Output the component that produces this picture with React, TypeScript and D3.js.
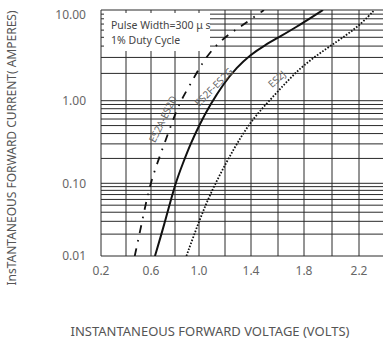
import * as d3 from 'd3';

// forward voltage (V) vs instantaneous forward current (A)
const es2aV = [0.47, 0.536, 0.592, 0.692, 0.783, 0.842, 0.925, 1.023, 1.123, 1.231, 1.315, 1.392, 1.496];
const es2aI = [0.01, 0.034, 0.1, 0.253, 0.583, 0.97, 1.49, 2.6, 4.01, 5.44, 6.5, 7.76, 10];

const es2fV = [0.633, 0.708, 0.8, 0.867, 0.925, 1.008, 1.085, 1.187, 1.29, 1.392, 1.504, 1.615, 1.744, 1.843, 1.936];
const es2fI = [0.01, 0.026, 0.098, 0.176, 0.291, 0.53, 0.887, 1.53, 2.32, 3.19, 4.11, 5.08, 6.54, 8.1, 10];

const es2jV = [0.895, 1.008, 1.1, 1.213, 1.315, 1.417, 1.541, 1.667, 1.795, 1.962, 2.109, 2.22, 2.315];
const es2jI = [0.01, 0.033, 0.081, 0.183, 0.351, 0.612, 1.02, 1.62, 2.47, 3.78, 5.3, 7.13, 10];

const xTicks = [0.2, 0.6, 1.0, 1.4, 1.8, 2.2];
const xGrid = [0.2, 0.4, 0.6, 0.8, 1.0, 1.2, 1.4, 1.6, 1.8, 2.0, 2.2];
const yTicks = [10, 1, 0.1, 0.01];
const yTickLabels = ['10.00', '1.00', '0.10', '0.01'];
const decades = [0.01, 0.1, 1];

const W = 383;
const H = 342;
const FONT = '"Noto Sans", "Open Sans", sans-serif';

// the printed grid is not quite uniform, so the scales are piecewise
const x = d3.scaleLinear()
    .domain([0.2, 0.4, 0.6, 0.8, 1.0, 1.2, 1.4, 1.6, 1.8, 2.0, 2.2, 2.4])
    .range([101, 126, 151, 175, 199, 225, 251, 278, 304, 332, 359, 386]);

const y = d3.scaleLog()
    .domain([0.01, 0.1, 1, 10])
    .range([256, 183.3, 100.7, 10]);

const left = 101;
const right = 386;
const top = 10;
const bottom = 256;

const line = d3.line<[number, number]>()
    .x(d => x(d[0]))
    .y(d => y(d[1]))
    .curve(d3.curveBasis);

const zip = (v: number[], i: number[]) => v.map((d, k) => [d, i[k]] as [number, number]);

export default function App() {
    const yGrid: number[] = [];
    decades.forEach(d => {
        for (let k = 1; k <= 9; k++) yGrid.push(k * d);
    });
    yGrid.push(10);

    const gridColor = '#2a2a2a';
    const labelColor = '#666';

    return (
        <svg width={W} height={H} style={{ position: 'absolute', left: 0, top: 0, background: '#fff' }}
            fontFamily={FONT}>
            <defs>
                <clipPath id="plot-clip">
                    <rect x={left} y={top} width={right - left} height={bottom - top} />
                </clipPath>
            </defs>

            {/* grid */}
            <g stroke={gridColor} strokeWidth={1}>
                {yGrid.map((v, i) => (
                    <line key={'h' + i} x1={left} x2={right} y1={y(v)} y2={y(v)} />
                ))}
                {xGrid.map((v, i) => (
                    <line key={'v' + i} x1={x(v)} x2={x(v)} y1={top} y2={bottom} />
                ))}
            </g>

            {/* legend box */}
            <rect x={104} y={13} width={106} height={38} fill="#fff" />
            <text x={111} y={29} fontSize={10.5} fill="#444">Pulse Width=300 μ s</text>
            <text x={111} y={44} fontSize={10.5} fill="#444">1% Duty Cycle</text>

            {/* curves */}
            <g clipPath="url(#plot-clip)" fill="none" stroke="#111">
                <path d={line(zip(es2aV, es2aI)) || ''} strokeWidth={1.8} strokeDasharray="8,7,1.6,7" />
                <path d={line(zip(es2fV, es2fI)) || ''} strokeWidth={2} />
                <path d={line(zip(es2jV, es2jI)) || ''} strokeWidth={1.8} strokeDasharray="1.6,1.6" />
            </g>

            {/* curve labels */}
            <g fontSize={10} fill="#666">
                <text transform="translate(163,119) rotate(-64)" textAnchor="middle" dy="0.35em">ES2A-ES2D</text>
                <text transform="translate(214,87) rotate(-45)" textAnchor="middle" dy="0.35em">ES2F-ES2G</text>
                <text transform="translate(277,79) rotate(-42)" textAnchor="middle" dy="0.35em">ES2J</text>
            </g>

            {/* y tick labels */}
            <g fontSize={12} fill={labelColor} textAnchor="end">
                {yTicks.map((v, i) => (
                    <text key={i} x={86} y={y(v) + (i === 0 ? 5 : 0)} dy="0.35em">{yTickLabels[i]}</text>
                ))}
            </g>

            {/* x tick labels */}
            <g fontSize={12} fill={labelColor} textAnchor="middle">
                {xTicks.map((v, i) => (
                    <text key={i} x={x(v)} y={270.5} dy="0.35em">{v.toFixed(1)}</text>
                ))}
            </g>

            {/* axis titles */}
            <text x={210} y={336} fontSize={13} fill="#555" textAnchor="middle">
                INSTANTANEOUS FORWARD VOLTAGE (VOLTS)
            </text>
            <text transform="translate(12,148) rotate(-90)" fontSize={12} fill="#555" textAnchor="middle" dy="0.35em">
                InsTANTANEOUS FORWARD CURRENT( AMPERES)
            </text>
        </svg>
    );
}
